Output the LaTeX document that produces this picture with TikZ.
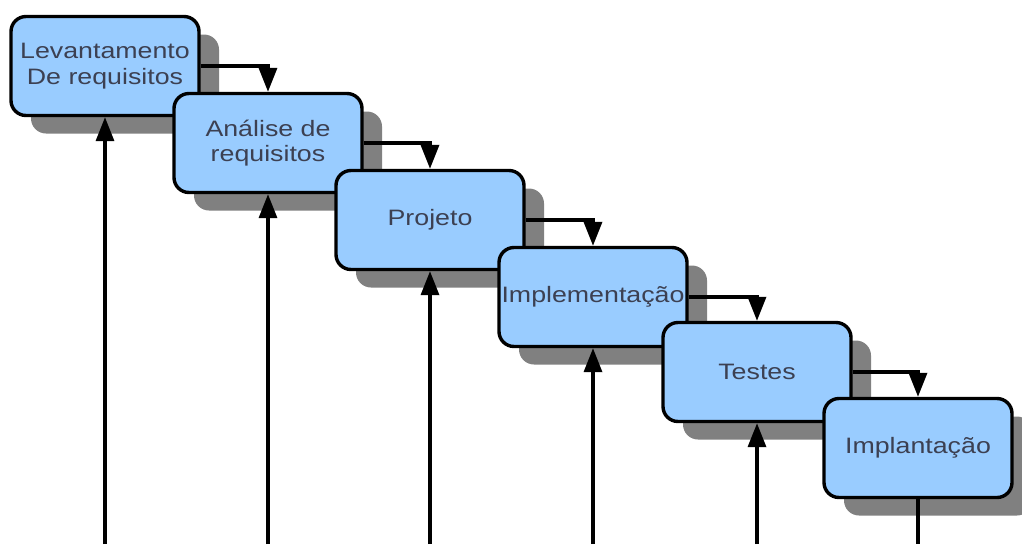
\documentclass[tikz,border=0pt]{standalone}
\usepackage{fontspec}
\setmainfont{Liberation Sans}[FakeStretch=1.2]
\usetikzlibrary{arrows.meta,shadows}
\definecolor{boxblue}{HTML}{99CCFF}
\definecolor{txt}{RGB}{60,64,82}
\definecolor{shade}{RGB}{128,128,128}
\begin{document}
\begin{tikzpicture}[x=1pt,y=-1pt,
  box/.style={draw=black, line width=3.4pt, fill=boxblue, rounded corners=15pt,
    minimum width=188pt, minimum height=99pt, align=center, inner sep=0pt,
    text=txt, font=\fontsize{22.3pt}{25.5pt}\selectfont,
    drop shadow={shadow xshift=20pt, shadow yshift=-18pt, fill=shade, opacity=1}},
  conn/.style={draw=black, line width=3.4pt, -{Triangle[width=18pt,length=24pt]}},
  plain/.style={draw=black, line width=3.4pt}]
\useasboundingbox (0,0) rectangle (1022,544);
\coordinate (bottom) at (0,544);
\node[box] (b1) at (105,66) {Levantamento\\De requisitos};
\node[box] (b2) at (268,143) {Análise de\\requisitos};
\node[box] (b3) at (430,220) {Projeto};
\node[box] (b4) at (593,297) {Implementação};
\node[box] (b5) at (757,372) {Testes};
\node[box] (b6) at (918,448) {Implantação};
\draw[conn] (b1.east) -| (b2.north);
\draw[conn] (b2.east) -| (b3.north);
\draw[conn] (b3.east) -| (b4.north);
\draw[conn] (b4.east) -| (b5.north);
\draw[conn] (b5.east) -| (b6.north);
\coordinate (g1) at (b1.south |- bottom);
\coordinate (g2) at (b2.south |- bottom);
\coordinate (g3) at (b3.south |- bottom);
\coordinate (g4) at (b4.south |- bottom);
\coordinate (g5) at (b5.south |- bottom);
\coordinate (g6) at (b6.south |- bottom);
\draw[conn] (g1) -- (b1.south);
\draw[conn] (g2) -- (b2.south);
\draw[conn] (g3) -- (b3.south);
\draw[conn] (g4) -- (b4.south);
\draw[conn] (g5) -- (b5.south);
\draw[plain] (b6.south) -- (g6);
\end{tikzpicture}
\end{document}
